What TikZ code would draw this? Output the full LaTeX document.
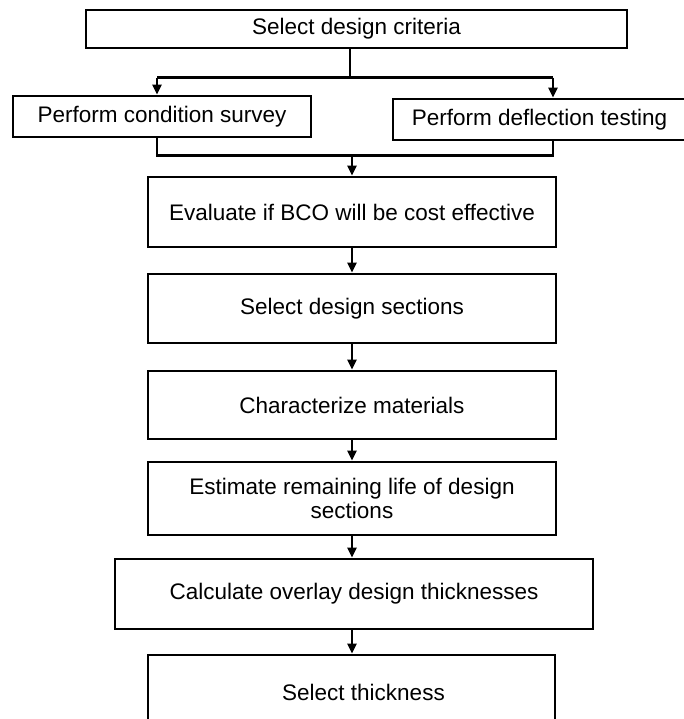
\documentclass[tikz,border=0pt]{standalone}
\usepackage{fontspec}
\setmainfont{Liberation Sans}
\usetikzlibrary{arrows.meta}
\begin{document}
\begin{tikzpicture}[x=0.5pt,y=-0.5pt,
  box/.style={draw=black,line width=1.4pt,rectangle,inner sep=0pt,align=center,
    font=\fontsize{11.25pt}{12pt}\selectfont},
  conn/.style={draw=black,line width=1.1pt},
  arr/.style={conn,-{Triangle[length=5pt,width=4.5pt]}}]
\useasboundingbox (0,0) rectangle (684,719);
\clip (0,0) rectangle (684,719);
\node[box,minimum width=270.5pt,minimum height=19pt] (top) at (356.5,29) {Select design criteria};
\node[box,minimum width=149pt,minimum height=20.5pt] (left) at (162,116.5) {Perform condition survey};
\node[box,minimum width=146.5pt,minimum height=20.5pt] (right) at (539.5,119.5) {Perform deflection testing};
\node[box,minimum width=204pt,minimum height=35pt] (b3) at (352,212) {Evaluate if BCO will be cost effective};
\node[box,minimum width=204pt,minimum height=34.5pt] (b4) at (352,308.5) {Select design sections};
\node[box,minimum width=204pt,minimum height=34pt] (b5) at (352,405) {Characterize materials};
\node[box,minimum width=204pt,minimum height=36.5pt] (b6) at (352,498.5) {Estimate remaining life of design\\sections};
\node[box,minimum width=239pt,minimum height=35pt] (b7) at (354,594) {Calculate overlay design thicknesses};
\node[box,minimum width=203.5pt,minimum height=37.5pt] (b8) at (351.5,692.5) {\hspace*{12pt}Select thickness};
\coordinate (j1) at (350,77.5);
\coordinate (jl) at (157,77.5);
\coordinate (jr) at (553,77.5);
\coordinate (kl) at (157,155.5);
\coordinate (kr) at (553,155.5);
\coordinate (k) at (352,155.5);
\draw[conn] (top.south -| j1) -- (j1);
\draw[conn] (jl) -- (jr);
\draw[arr] (jl) -- (jl |- left.north);
\draw[arr] (jr) -- (jr |- right.north);
\draw[conn] (left.south -| kl) -- (kl) -- (kr) -- (right.south -| kr);
\draw[arr] (k) -- (k |- b3.north);
\draw[arr] (b3.south) -- (b3.south |- b4.north);
\draw[arr] (b4.south) -- (b4.south |- b5.north);
\draw[arr] (b5.south) -- (b5.south |- b6.north);
\draw[arr] (b6.south) -- (b6.south |- b7.north);
\draw[arr] (b6.south |- b7.south) -- (b6.south |- b8.north);
\end{tikzpicture}
\end{document}
